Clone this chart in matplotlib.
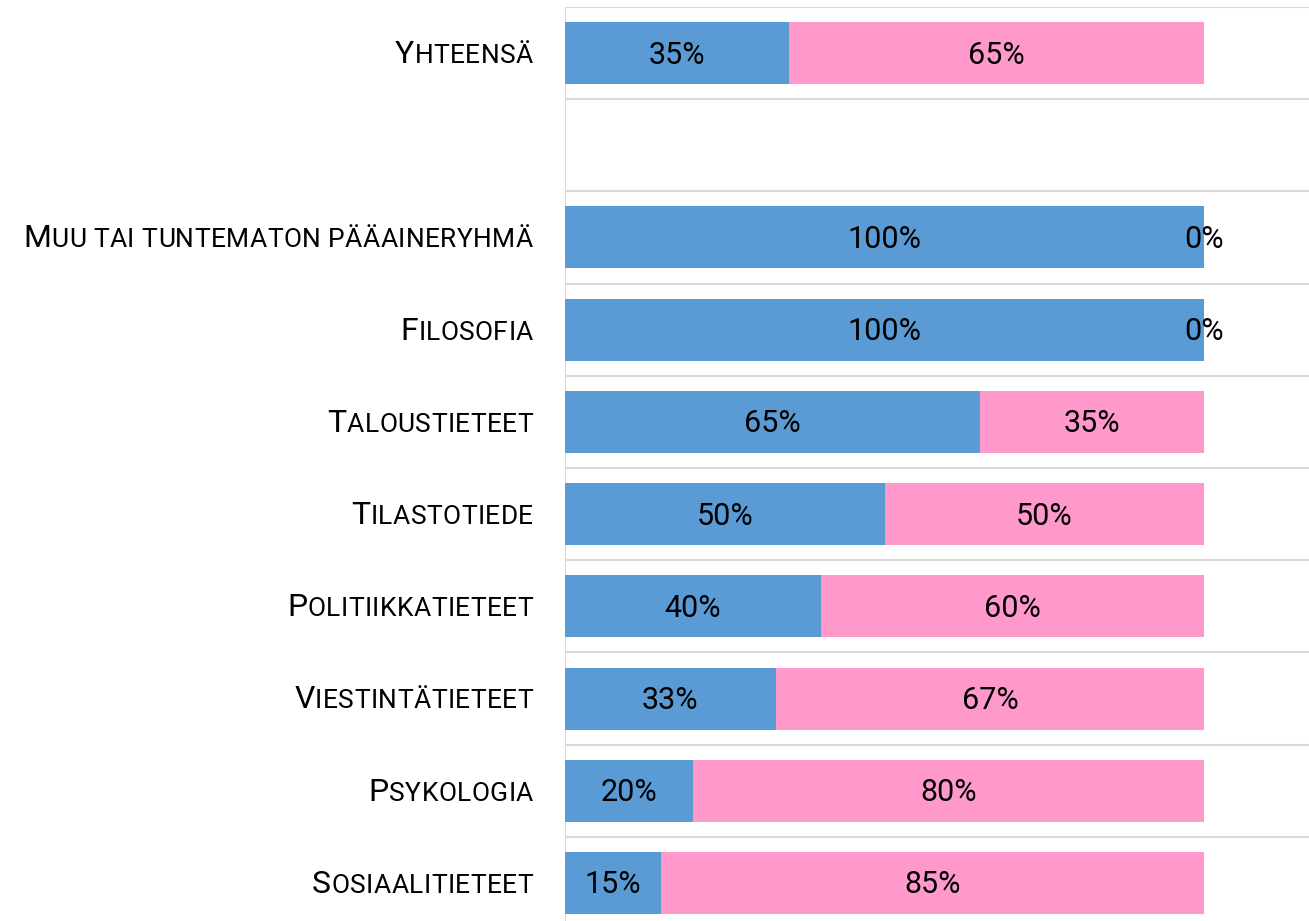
import matplotlib
matplotlib.use("Agg")
import matplotlib.pyplot as plt
from matplotlib.offsetbox import TextArea, HPacker, AnnotationBbox
from matplotlib.transforms import offset_copy

categories = ["Yhteensä", "", "Muu tai tuntematon pääaineryhmä", "Filosofia",
              "Taloustieteet", "Tilastotiede", "Politiikkatieteet",
              "Viestintätieteet", "Psykologia", "Sosiaalitieteet"]
blue_vals = [35, None, 100, 100, 65, 50, 40, 33, 20, 15]
pink_vals = [65, None, 0, 0, 35, 50, 60, 67, 80, 85]

BLUE = "#5B9BD5"
PINK = "#FF99CC"
GRID = "#D9D9D9"
LABEL_FONT = "Roboto"
NUM_FONT = "Roboto"

W, H = 1309, 921
fig = plt.figure(figsize=(W / 100, H / 100), dpi=100)
top_px, row_px = 7, 92.2
n = len(categories)
ax_h = row_px * n
ax = fig.add_axes([565 / W, (H - top_px - ax_h) / H, (W - 565) / W, ax_h / H])
xmax = (W - 565) / 639.0
ax.set_xlim(0, xmax)
ax.set_ylim(n - 0.5, -0.5)
ax.axis("off")

# grid lines between rows
for k in range(n + 1):
    ax.axhline(k - 0.5, color=GRID, lw=1.5, zorder=0)
ax.axvline(0, color=GRID, lw=1.5, zorder=0)

num_tr = offset_copy(ax.transData, fig=fig, x=0, y=-1.5, units="points")
bar_h = 62 / 92.2
for i, (b, p) in enumerate(zip(blue_vals, pink_vals)):
    if b is None:
        continue
    bf, pf = b / 100.0, p / 100.0
    ax.barh(i, bf, height=bar_h, color=BLUE, zorder=2)
    ax.barh(i, pf, left=bf, height=bar_h, color=PINK, zorder=2)
    ax.text(bf / 2, i, f"{b}%", ha="center", va="center", fontsize=22,
            family=NUM_FONT, color="black", zorder=3, transform=num_tr)
    ax.text(bf + pf / 2, i, f"{p}%", ha="center", va="center", fontsize=22,
            family=NUM_FONT, color="black", zorder=3, transform=num_tr)

# small-caps category labels
for i, cat in enumerate(categories):
    if not cat:
        continue
    children = []
    for j, ch in enumerate(cat):
        size = 23 if j == 0 else 19
        children.append(TextArea(ch.upper(),
                                 textprops=dict(fontsize=size, family=LABEL_FONT,
                                                color="black")))
    pack = HPacker(children=children, align="baseline", pad=0, sep=0.3)
    ab = AnnotationBbox(pack, (0, i), xybox=(-23, -1.0), xycoords="data",
                        boxcoords="offset points", box_alignment=(1, 0.5),
                        frameon=False, annotation_clip=False)
    ax.add_artist(ab)

fig.savefig("out.png", dpi=100)
